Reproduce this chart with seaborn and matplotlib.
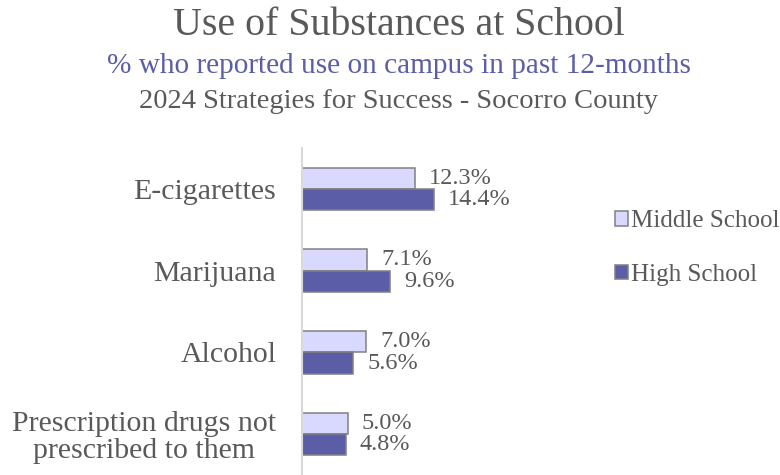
import matplotlib
matplotlib.use("Agg")
import matplotlib.pyplot as plt
import seaborn as sns
import pandas as pd

categories = ["E-cigarettes", "Marijuana", "Alcohol", "Prescription drugs not\nprescribed to them"]
middle_school = [12.3, 7.1, 7.0, 5.0]
high_school = [14.4, 9.6, 5.6, 4.8]
groups = ["Middle School", "High School"]

df = pd.DataFrame({
    "category": categories * 2,
    "value": middle_school + high_school,
    "group": [groups[0]] * 4 + [groups[1]] * 4,
})

sns.set_theme(style="white")
plt.rcParams["font.family"] = ["Liberation Serif", "DejaVu Serif"]

gray = "#595959"
purple = "#5B5EA6"
palette = {"Middle School": "#D9D9FF", "High School": purple}

fig = plt.figure(figsize=(7.8, 4.75), dpi=100)
ax = fig.add_axes([302 / 780, 0, 278 / 780, 327 / 475])

sns.barplot(data=df, y="category", x="value", hue="group", order=categories,
            hue_order=groups, palette=palette, orient="h", width=0.52,
            edgecolor="#808080", linewidth=1.1, saturation=1, ax=ax)

ax.set_xlim(0, 30.3)
ax.set_xlabel("")
ax.set_ylabel("")
ax.set_xticks([])
for side in ["top", "right", "bottom"]:
    ax.spines[side].set_visible(False)
ax.spines["left"].set_color("#D9D9D9")
ax.spines["left"].set_linewidth(1.5)
ax.tick_params(axis="y", length=0, pad=18.5, labelsize=21.5, labelcolor=gray)
for lbl in ax.get_yticklabels():
    lbl.set_multialignment("center")
    lbl.set_linespacing(1.05)

for container in ax.containers:
    ax.bar_label(container, fmt="%.1f%%", padding=10, fontsize=17.5, color=gray)

ax.legend(loc="center left", bbox_to_anchor=(1.072, 0.694), frameon=False,
          fontsize=18, labelcolor=gray, handlelength=0.5, handleheight=0.5,
          handletextpad=0.12, labelspacing=1.25, borderpad=0, borderaxespad=0.6)

xc = 399 / 780
fig.text(xc, 1 - 35 / 475, "Use of Substances at School", ha="center",
         va="baseline", fontsize=28.7, color=gray)
fig.text(xc, 1 - 73 / 475, "% who reported use on campus in past 12-months",
         ha="center", va="baseline", fontsize=21.1, color=purple)
fig.text(xc, 1 - 108 / 475, "2024 Strategies for Success - Socorro County",
         ha="center", va="baseline", fontsize=20.5, color=gray)

fig.savefig("out.png", dpi=100)
